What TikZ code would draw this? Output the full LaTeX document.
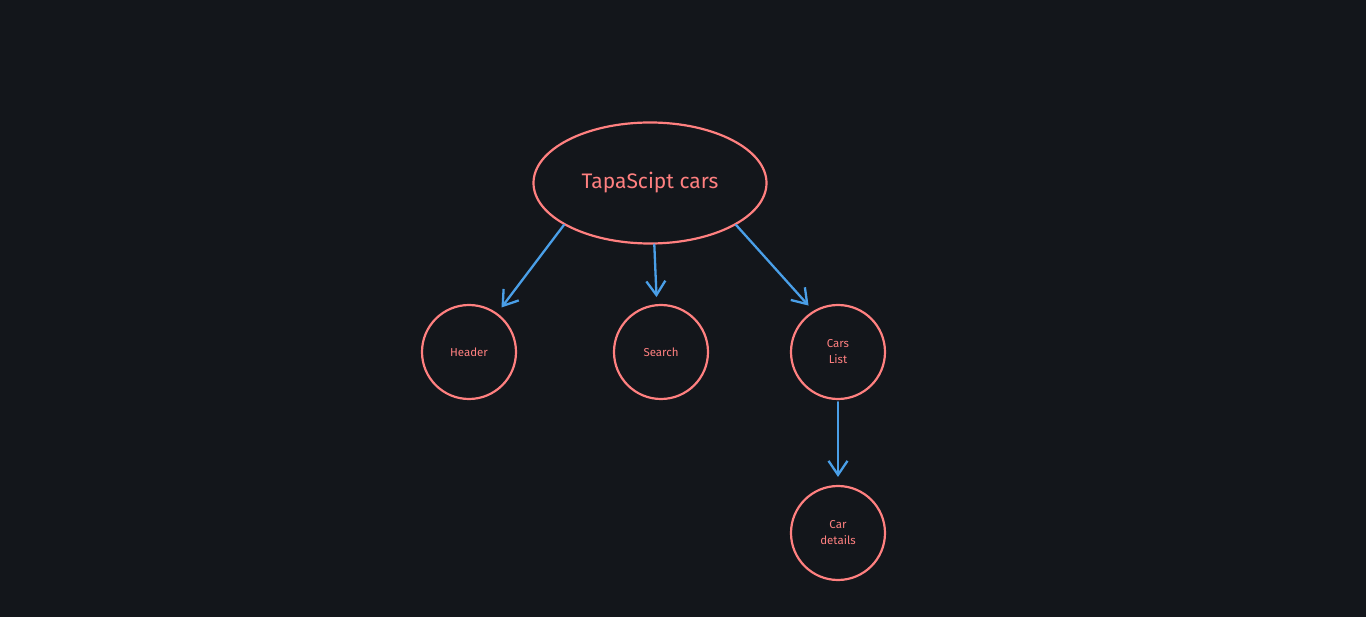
\documentclass[tikz,border=0pt]{standalone}
\usepackage{fontspec}
\setmainfont{Fira Sans}
\usepackage{tikz}
\usetikzlibrary{shapes.geometric}
\usetikzlibrary{arrows.meta,calc,backgrounds}
\usetikzlibrary{positioning}
\definecolor{bgdark}{HTML}{13161B}
\definecolor{salmon}{HTML}{FF8080}
\definecolor{edgeblue}{HTML}{4A9FE8}
\tikzstyle{sketch}=[
  >={Straight Barb[length=14pt,width=19pt]}, x=1pt, y=-1pt
]
\tikzstyle{titlenode}=[
  draw=salmon, ellipse, line width=2.2pt, minimum width=233pt, minimum height=121pt,
  inner sep=0pt, text=salmon, font=\fontsize{21}{24}\selectfont
]
\tikzstyle{compnode}=[
  draw=salmon, circle, line width=2.2pt, minimum size=94pt, inner sep=0pt,
  text=salmon, align=center, font=\fontsize{11.5}{16}\selectfont
]
\tikzstyle{linkedge}=[
  ->, draw=edgeblue, line width=2.3pt, line cap=round
]

\begin{document}
\begin{tikzpicture}[sketch]
    \fill [bgdark] (0,0) rectangle (1366,617);
    \useasboundingbox (0,0) rectangle (1366,617);
      \node (title) at (650,183) [titlenode] {TapaScipt cars};
      \node (header) at (469,352) [compnode] {Header};
      \node (search) at (661,352) [compnode] {Search};
      \node (carslist) at (838,352) [compnode] {Cars\\List};
      \node (cardetails) at (838,533) [compnode] {Car\\details};
      \draw [linkedge, shorten >=7pt] (title.206) -- (header.54);
      \draw [linkedge, shorten >=7pt] (title.274) -- (search.95);
      \draw [linkedge, shorten >=7pt] (title.334) -- (carslist.121);
      \draw [linkedge, shorten >=8pt, shorten <=2pt] (carslist.270) -- (cardetails.90);
    \end{tikzpicture}
\end{document}
